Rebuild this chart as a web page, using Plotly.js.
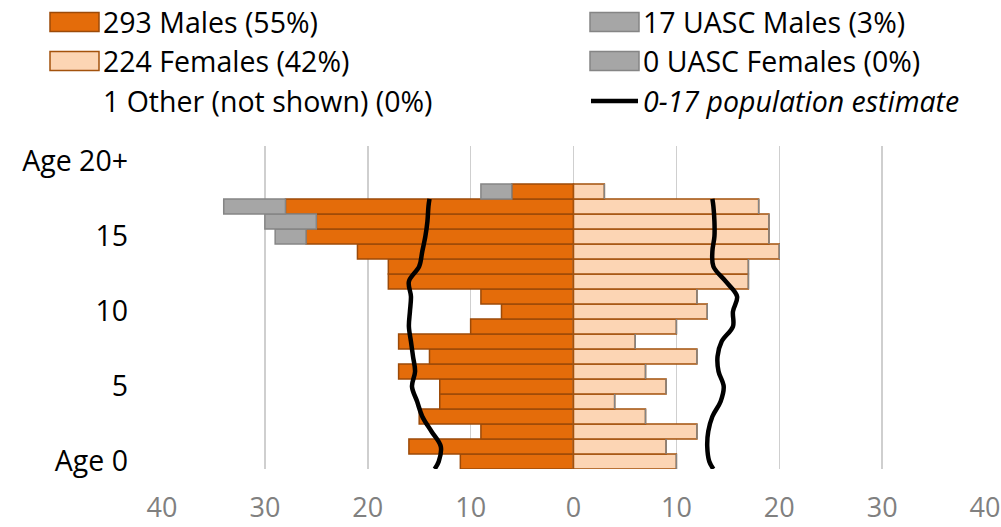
<!DOCTYPE html>
<html>
<head>
<meta charset="utf-8">
<script src="https://cdn.plot.ly/plotly-3.0.1.min.js"></script>
<style>html,body{margin:0;padding:0;background:#fff;}#chart{width:1001px;height:527px;}</style>
</head>
<body>
<div id="chart"></div>
<script>
// ---- data ----
const ages = [0,1,2,3,4,5,6,7,8,9,10,11,12,13,14,15,16,17,18];
const males = [11,16,9,15,13,13,17,14,17,10,7,9,18,18,21,26,25,28,6];
const uascMales = [0,0,0,0,0,0,0,0,0,0,0,0,0,0,0,3,5,6,3];
const females = [10,9,12,7,4,9,7,12,6,10,13,12,17,17,20,19,19,18,3];
const uascFemales = [0,0,0,0,0,0,0,0,0,0,0,0,0,0,0,0,0,0,0];
const popAges = [-0.5,0,1,2,3,4,5,6,7,8,9,10,11,12,13,14,15,16,17,17.5];
const popMales = [13.5,13.1,12.9,13.8,14.7,15.2,15.7,15.4,15.6,15.8,16.0,15.9,15.8,16.0,15.0,14.7,14.4,14.2,14.1,14.0];
const popFemales = [13.6,13.2,13.0,13.1,13.5,14.3,14.6,14.1,14.0,14.4,15.5,15.5,15.9,14.8,13.6,13.5,13.7,13.7,13.6,13.5];
const legendLabels = ["293 Males (55%)","224 Females (42%)","1 Other (not shown) (0%)","17 UASC Males (3%)","0 UASC Females (0%)","0-17 population estimate"];
const xTickVals = [-40,-30,-20,-10,0,10,20,30,40];
const xTickText = ["40","30","20","10","0","10","20","30","40"];
const yTickVals = [0,5,10,15,20];
const yTickText = ["Age 0","5","10","15","Age 20+"];

// ---- styles ----
const MALE = '#E46C0A', MALE_LINE = '#9C4A08';
const FEM = '#FCD5B4', FEM_LINE = '#A3520C';
const GREY = '#A6A6A6', GREY_LINE = '#858585';
const FONT = 'Open Sans, Noto Sans, sans-serif';

const neg = a => a.map(v => -v);

const traces = [
  {type:'bar', orientation:'h', y:ages, x:neg(males), width:1,
   marker:{color:MALE, line:{color:MALE_LINE, width:1.5}}, hoverinfo:'skip'},
  {type:'bar', orientation:'h', y:ages, x:neg(uascMales), width:1,
   marker:{color:GREY, line:{color:GREY_LINE, width:1.5}}, hoverinfo:'skip'},
  {type:'bar', orientation:'h', y:ages, x:females, width:1,
   marker:{color:FEM, line:{color:FEM_LINE, width:1.5}}, hoverinfo:'skip'},
  {type:'bar', orientation:'h', y:ages, x:uascFemales, width:1,
   marker:{color:GREY, line:{color:GREY_LINE, width:1.5}}, hoverinfo:'skip'},
  {type:'scatter', mode:'lines', y:popAges, x:neg(popMales),
   line:{color:'#000', width:4.5, shape:'spline', smoothing:1}, hoverinfo:'skip'},
  {type:'scatter', mode:'lines', y:popAges, x:popFemales,
   line:{color:'#000', width:4.5, shape:'spline', smoothing:1}, hoverinfo:'skip'}
];

// pixel -> paper helpers for the custom legend
const W = 1001, H = 527, M = {l:162, r:16, t:146, b:58};
const pw = W - M.l - M.r, ph = H - M.t - M.b;
const px = x => (x - M.l) / pw;
const py = y => (H - M.b - y) / ph;

const shapes = [];
const annotations = [];
const swatches = [
  {x0:50, y:22, fill:MALE, line:MALE_LINE},
  {x0:50, y:61, fill:FEM, line:FEM_LINE},
  {x0:590, y:22, fill:GREY, line:GREY_LINE},
  {x0:590, y:61, fill:GREY, line:GREY_LINE}
];
swatches.forEach(s => {
  shapes.push({type:'rect', xref:'paper', yref:'paper',
    x0:px(s.x0), x1:px(s.x0+49), y0:py(s.y-9.5), y1:py(s.y+9.5),
    fillcolor:s.fill, line:{color:s.line, width:1.5}});
});
shapes.push({type:'line', xref:'paper', yref:'paper', x0:px(591), x1:px(638), y0:py(101), y1:py(101),
  line:{color:'#000', width:4.5}});

const legendText = [
  {x:101, y:22, i:0}, {x:101, y:61, i:1}, {x:101, y:101, i:2},
  {x:641, y:22, i:3}, {x:641, y:61, i:4}, {x:641, y:101, i:5, italic:true}
];
legendText.forEach(t => {
  annotations.push({xref:'paper', yref:'paper', x:px(t.x), y:py(t.y), xanchor:'left', yanchor:'middle',
    text: t.italic ? '<i>'+legendLabels[t.i]+'</i>' : legendLabels[t.i],
    showarrow:false, font:{family:FONT, size:28.5, color:'#000'}});
});

const layout = {
  width:W, height:H, margin:M, paper_bgcolor:'#fff', plot_bgcolor:'#fff',
  barmode:'relative', bargap:0, showlegend:false,
  xaxis:{range:[-40,40], tickvals:xTickVals, ticktext:xTickText, showgrid:true,
    gridcolor:'#CFCFCF', gridwidth:1.5, zeroline:false, showline:false, ticks:'',
    ticklabelstandoff:20, tickfont:{family:FONT, size:27, color:'#808080'}, fixedrange:true},
  yaxis:{range:[-0.5,21.03], tickvals:yTickVals, ticktext:yTickText, showgrid:false,
    zeroline:false, showline:false, ticks:'', ticklabelstandoff:33,
    tickfont:{family:FONT, size:28.5, color:'#000'}, fixedrange:true},
  shapes:shapes, annotations:annotations
};

Plotly.newPlot('chart', traces, layout, {displayModeBar:false, staticPlot:true});
</script>
</body>
</html>
